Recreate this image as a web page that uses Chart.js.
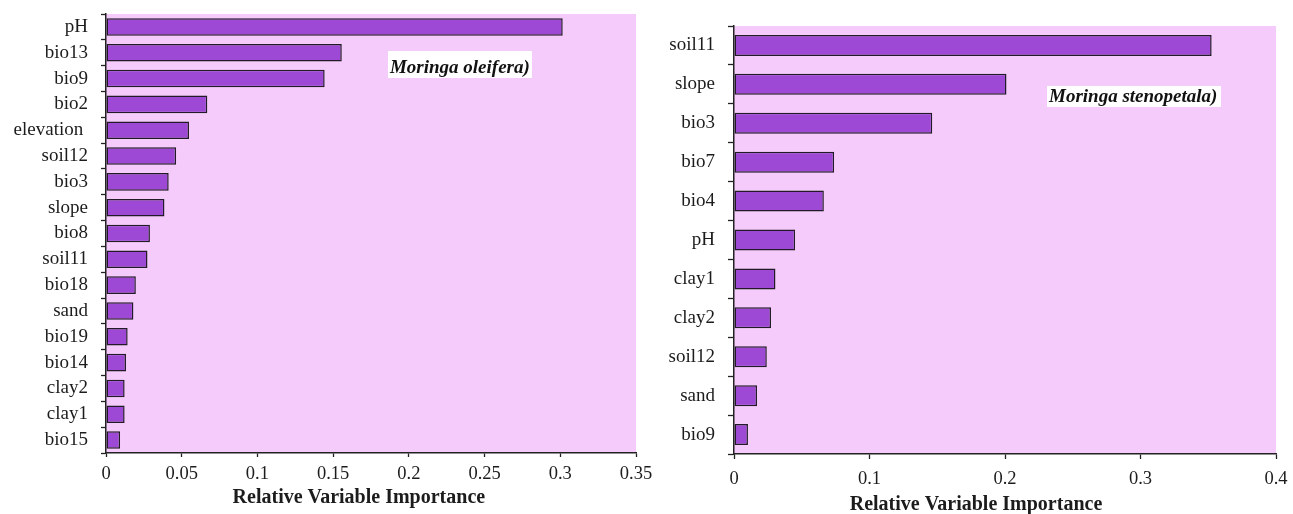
<!DOCTYPE html>
<html>
<head>
<meta charset="utf-8">
<script src="https://cdn.jsdelivr.net/npm/chart.js@4.4.1/dist/chart.umd.min.js"></script>
<style>
  html, body { margin: 0; padding: 0; background: #ffffff; width: 1293px; height: 514px; overflow: hidden; }
  canvas { position: absolute; top: 0; }
  #oleifera { left: 0; }
  #stenopetala { left: 650px; }
</style>
</head>
<body>
<canvas id="oleifera" width="680" height="514"></canvas>
<canvas id="stenopetala" width="643" height="514"></canvas>
<script>
// Moringa oleifera: predictor names and their relative importance
const oleiferaVars = ['pH', 'bio13', 'bio9', 'bio2', 'elevation ', 'soil12', 'bio3', 'slope', 'bio8',
  'soil11', 'bio18', 'sand', 'bio19', 'bio14', 'clay2', 'clay1', 'bio15'];
const oleiferaImportance = [0.3016, 0.1557, 0.1444, 0.0669, 0.0548, 0.0463, 0.0414, 0.0386, 0.0290,
  0.0274, 0.0197, 0.0181, 0.0143, 0.0132, 0.0123, 0.0123, 0.0093];
const oleiferaTicks = ['0', '0.05', '0.1', '0.15', '0.2', '0.25', '0.3', '0.35'];

// Moringa stenopetala: predictor names and their relative importance
const stenopetalaVars = ['soil11', 'slope', 'bio3', 'bio7', 'bio4', 'pH', 'clay1', 'clay2', 'soil12', 'sand', 'bio9'];
const stenopetalaImportance = [0.3525, 0.2011, 0.1463, 0.0739, 0.0663, 0.0451, 0.0306, 0.0273, 0.0242, 0.0170, 0.0103];
const stenopetalaTicks = ['0', '0.1', '0.2', '0.3', '0.4'];

const axisTitle = 'Relative Variable Importance';
const SERIF = "'Liberation Serif', 'Times New Roman', serif";
const INK = '#1c1c1c';

// Pink fill behind the plotting area
const plotBackground = {
  id: 'plotBackground',
  beforeDraw(chart, args, opts) {
    const { ctx, chartArea: a } = chart;
    ctx.save();
    ctx.fillStyle = opts.color;
    ctx.fillRect(a.left, a.top, a.right - a.left, a.bottom - a.top);
    ctx.restore();
  }
};

// Species name in a white box, placed in axis units
const speciesLabel = {
  id: 'speciesLabel',
  afterDatasetsDraw(chart, args, opts) {
    const { ctx, scales: { x, y } } = chart;
    const left = x.getPixelForValue(opts.from);
    const right = x.getPixelForValue(opts.to);
    const cy = y.getPixelForValue(opts.row);
    ctx.save();
    ctx.fillStyle = '#ffffff';
    ctx.fillRect(left, cy - opts.height / 2, right - left, opts.height);
    ctx.fillStyle = '#111111';
    ctx.font = "italic bold 19px " + SERIF;
    ctx.textAlign = 'left';
    ctx.textBaseline = 'alphabetic';
    ctx.fillText(opts.text, left + 2, cy + opts.baseline);
    ctx.restore();
  }
};

// Bold axis caption under the value axis
const valueAxisTitle = {
  id: 'valueAxisTitle',
  afterDraw(chart, args, opts) {
    const { ctx, scales: { x } } = chart;
    ctx.save();
    ctx.fillStyle = INK;
    ctx.font = "bold 20px " + SERIF;
    ctx.textAlign = 'center';
    ctx.textBaseline = 'middle';
    ctx.fillText(opts.text, x.getPixelForValue(opts.at), x.top + opts.drop);
    ctx.restore();
  }
};

function importanceChart(id, names, values, tickLabels, cfg) {
  return new Chart(document.getElementById(id), {
    type: 'bar',
    data: {
      labels: names,
      datasets: [{
        data: values,
        backgroundColor: '#9d49d6',
        borderColor: '#221a26',
        borderWidth: 1.5,
        borderSkipped: false,
        barPercentage: cfg.barPct,
        categoryPercentage: 1
      }]
    },
    options: {
      indexAxis: 'y',
      responsive: false,
      animation: false,
      layout: { padding: cfg.padding },
      scales: {
        x: {
          type: 'linear',
          min: 0,
          max: cfg.max,
          ticks: {
            stepSize: cfg.step,
            color: INK,
            padding: cfg.xPad,
            font: { family: SERIF, size: 18.5 },
            callback: (v, i) => tickLabels[i]
          },
          grid: { drawOnChartArea: false, drawTicks: true, tickLength: cfg.xTick, tickColor: '#222', tickWidth: 1.3 },
          border: { display: true, color: '#222', width: 1.5 },
          afterFit(s) { s.height = cfg.xHeight; s.paddingLeft = 0; s.paddingRight = 0; }
        },
        y: {
          type: 'category',
          offset: true,
          ticks: { color: INK, padding: 13, font: { family: SERIF, size: 19 } },
          grid: { offset: true, drawOnChartArea: false, drawTicks: true, tickLength: cfg.yTick, tickColor: '#222', tickWidth: 1.3 },
          border: { display: true, color: '#222', width: 1.5 },
          afterFit(s) { s.width = cfg.yWidth; s.paddingTop = 0; s.paddingBottom = 0; }
        }
      },
      plugins: {
        legend: { display: false },
        tooltip: { enabled: false },
        plotBackground: { color: '#f4cbfa' },
        speciesLabel: cfg.species,
        valueAxisTitle: { text: axisTitle, at: cfg.titleAt, drop: cfg.titleDrop }
      }
    },
    plugins: [plotBackground, speciesLabel, valueAxisTitle]
  });
}

importanceChart('oleifera', oleiferaVars, oleiferaImportance, oleiferaTicks, {
  max: 0.35, step: 0.05, barPct: 0.68,
  padding: { left: 0, top: 14, right: 44, bottom: 0 },
  xHeight: 61, yWidth: 106, xTick: 4, yTick: 5, xPad: 6,
  titleAt: 0.167, titleDrop: 45,
  species: { text: 'Moringa oleifera)', from: 0.1862, to: 0.2813, row: 1.456, height: 27, baseline: 8 }
});

importanceChart('stenopetala', stenopetalaVars, stenopetalaImportance, stenopetalaTicks, {
  max: 0.4, step: 0.1, barPct: 0.54,
  padding: { left: 0, top: 26, right: 17, bottom: 0 },
  xHeight: 60, yWidth: 84, xTick: 5, yTick: 6, xPad: 9,
  titleAt: 0.1786, titleDrop: 51,
  species: { text: 'Moringa stenopetala)', from: 0.231, to: 0.3594, row: 1.31, height: 21, baseline: 6 }
});
</script>
</body>
</html>
